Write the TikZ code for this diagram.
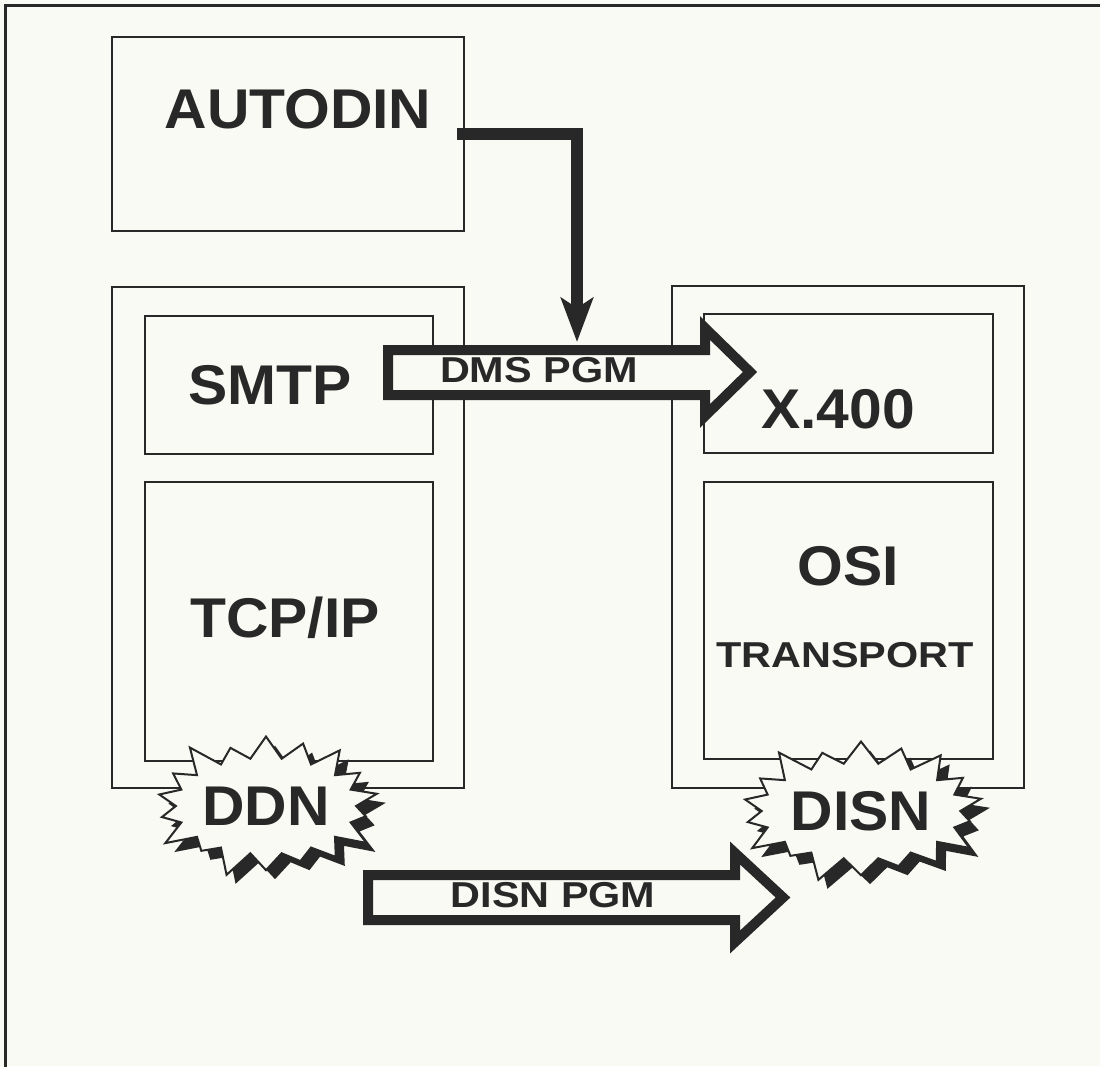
\documentclass[tikz,border=0pt]{standalone}
\usepackage{fontspec}
\setmainfont{Liberation Sans}
\newfontfamily\widesans[FakeStretch=1.15]{Liberation Sans}
\newfontfamily\bigsans[FakeStretch=1.05]{Liberation Sans}
\usetikzlibrary{arrows.meta,shapes.symbols,shadows}
\definecolor{ink}{RGB}{40,40,40}
\definecolor{paper}{RGB}{250,250,244}
\begin{document}
\begin{tikzpicture}[x=1pt,y=-1pt]

	\tikzstyle{frame} = [draw=ink,line width=3pt]
	\tikzstyle{box} = [rectangle,draw=ink,line width=2pt,inner sep=0pt]
	\tikzstyle{big} = [text=ink,font=\bigsans\fontsize{56}{60}\selectfont\bfseries,anchor=base]
	\tikzstyle{small} = [text=ink,font=\widesans\fontsize{36}{40}\selectfont\bfseries,anchor=base]
	\tikzstyle{burst} = [starburst,draw=ink,line width=2pt,fill=paper,text=ink,font=\bigsans\fontsize{56}{60}\selectfont\bfseries,starburst points=18,starburst point height=30pt,inner sep=0pt,drop shadow={fill=ink,opacity=1,shadow xshift=9pt,shadow yshift=-9pt}]
	\tikzstyle{fatarrow} = [draw=ink,line width=10pt,fill=paper,line join=miter]
	\tikzstyle{feed} = [-{Stealth[length=44pt,width=32pt,inset=10pt]},draw=ink,line width=12pt,line join=miter]

	\useasboundingbox[fill=paper] (0,0) rectangle (1100,1066);
	\draw[frame] (5,1080) -- (5,5) -- (1110,5);

	% boxes
	\node[box,minimum width=352pt,minimum height=194pt] (autodin)	at (288,134)	{};
	\node[box,minimum width=352pt,minimum height=501pt] (ddnstack)	at (288,537.5)	{};
	\node[box,minimum width=288pt,minimum height=138pt] (smtp)		at (289,385)	{};
	\node[box,minimum width=288pt,minimum height=279pt] (tcpip)		at (289,621.5)	{};
	\node[box,minimum width=352pt,minimum height=502pt] (disnstack)	at (848,537)	{};
	\node[box,minimum width=289pt,minimum height=139pt] (xfour)		at (848.5,383.5)	{};
	\node[box,minimum width=289pt,minimum height=277pt] (osi)		at (848.5,620.5)	{};

	% labels
	\node[big] (autodinlbl)	at (298,128)	{AUTODIN};
	\node[big] (smtplbl)	at (270,404)	{SMTP};
	\node[big] (tcpiplbl)	at (285,637)	{TCP/IP};
	\node[big] (xfourlbl)	at (838,428)	{X.400};
	\node[big] (osilbl)		at (848,585)	{OSI};
	\node[small] (translbl)	at (845,667)	{TRANSPORT};

	% networks
	\node[burst,minimum width=210pt,minimum height=156pt] (ddn)		at (266,806)	{DDN};
	\node[burst,minimum width=214pt,minimum height=156pt] (disn)	at (861,811)	{DISN};

	% programs
	\draw[fatarrow] (388,350) -- (705,350) -- (705,328) -- (750,372) -- (705,416) -- (705,395) -- (388,395) -- cycle;
	\node[small] (dmslbl)	at (539,382)	{DMS PGM};
	\draw[fatarrow] (368,875) -- (735,875) -- (735,853) -- (783,897.5) -- (735,942) -- (735,920) -- (368,920) -- cycle;
	\node[small] (disnlbl)	at (553,907)	{DISN PGM};

	\coordinate (dmstop) at (577,342);
	\draw[feed] ([xshift=-8pt]autodin.east) -| (dmstop);

\end{tikzpicture}
\end{document}
